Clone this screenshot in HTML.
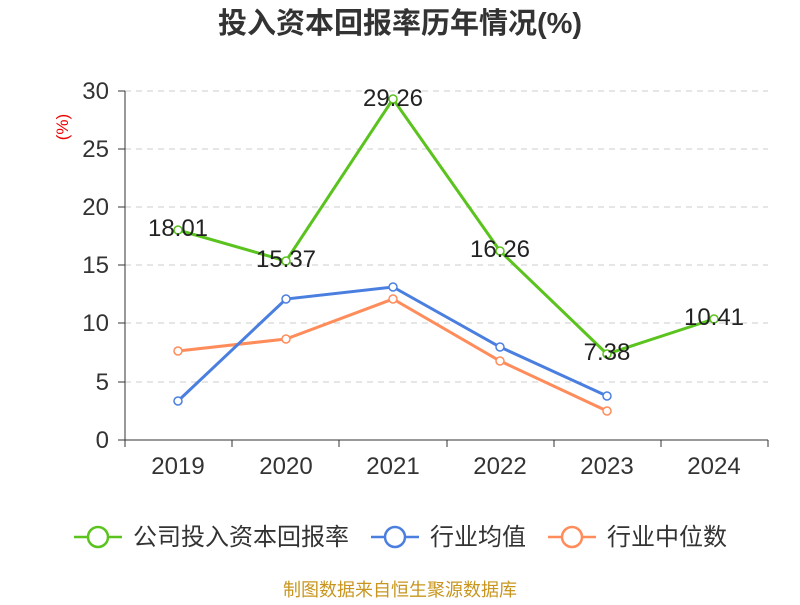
<!DOCTYPE html>
<html><head><meta charset="utf-8"><style>body{margin:0;background:#fff}</style></head><body>
<svg width="800" height="600" xmlns="http://www.w3.org/2000/svg" font-family="Liberation Sans, Noto Sans CJK SC, sans-serif">
<text x="400" y="33" text-anchor="middle" font-size="29" font-weight="bold" fill="#333">投入资本回报率历年情况(%)</text>
<text x="68" y="127" font-size="17" fill="#e00" transform="rotate(-90 68 127)" text-anchor="middle">(%)</text>
<g stroke="#ccc" stroke-dasharray="6,5">
<line x1="125" y1="91" x2="768" y2="91"/><line x1="125" y1="149" x2="768" y2="149"/><line x1="125" y1="207" x2="768" y2="207"/><line x1="125" y1="265" x2="768" y2="265"/><line x1="125" y1="323" x2="768" y2="323"/><line x1="125" y1="382" x2="768" y2="382"/>
</g>
<g stroke="#333"><line x1="125" y1="91" x2="125" y2="440"/><line x1="125" y1="440" x2="768" y2="440"/>
<line x1="118" y1="91" x2="125" y2="91"/><line x1="118" y1="149" x2="125" y2="149"/><line x1="118" y1="207" x2="125" y2="207"/><line x1="118" y1="265" x2="125" y2="265"/><line x1="118" y1="323" x2="125" y2="323"/><line x1="118" y1="382" x2="125" y2="382"/><line x1="118" y1="440" x2="125" y2="440"/>
<line x1="125" y1="440" x2="125" y2="447"/><line x1="232" y1="440" x2="232" y2="447"/><line x1="339" y1="440" x2="339" y2="447"/><line x1="447" y1="440" x2="447" y2="447"/><line x1="554" y1="440" x2="554" y2="447"/><line x1="661" y1="440" x2="661" y2="447"/><line x1="768" y1="440" x2="768" y2="447"/></g>
<g font-size="24" fill="#333" text-anchor="end"><text x="109" y="99">30</text><text x="109" y="157">25</text><text x="109" y="215">20</text><text x="109" y="273">15</text><text x="109" y="331">10</text><text x="109" y="390">5</text><text x="109" y="448">0</text></g>
<g font-size="24" fill="#333" text-anchor="middle"><text x="178" y="474">2019</text><text x="286" y="474">2020</text><text x="393" y="474">2021</text><text x="500" y="474">2022</text><text x="607" y="474">2023</text><text x="714" y="474">2024</text></g>
<g fill="none" stroke-width="3">
<polyline stroke="#ff8c5a" points="178,351 286,339 393,299 500,361 607,411"/>
<polyline stroke="#4a7fe0" points="178,401 286,299 393,287 500,347 607,396"/>
<polyline stroke="#5ac31e" points="178,230 286,261 393,99 500,251 607,354 714,319"/>
</g>
<g fill="#fff" stroke-width="1.5">
<g stroke="#ff8c5a"><circle cx="178" cy="351" r="4"/><circle cx="286" cy="339" r="4"/><circle cx="393" cy="299" r="4"/><circle cx="500" cy="361" r="4"/><circle cx="607" cy="411" r="4"/></g>
<g stroke="#4a7fe0"><circle cx="178" cy="401" r="4"/><circle cx="286" cy="299" r="4"/><circle cx="393" cy="287" r="4"/><circle cx="500" cy="347" r="4"/><circle cx="607" cy="396" r="4"/></g>
<g stroke="#5ac31e"><circle cx="178" cy="230" r="4"/><circle cx="286" cy="261" r="4"/><circle cx="393" cy="99" r="4"/><circle cx="500" cy="251" r="4"/><circle cx="607" cy="354" r="4"/><circle cx="714" cy="319" r="4"/></g>
</g>
<g font-size="24" fill="#222" text-anchor="middle"><text x="178" y="236">18.01</text><text x="286" y="267">15.37</text><text x="393" y="106">29.26</text><text x="500" y="257">16.26</text><text x="607" y="360">7.38</text><text x="714" y="325">10.41</text></g>
<g stroke-width="2.5" fill="#fff">
<line x1="74" y1="537" x2="122" y2="537" stroke="#5ac31e"/><circle cx="98" cy="537" r="10" stroke="#5ac31e"/>
<line x1="371" y1="537" x2="419" y2="537" stroke="#4a7fe0"/><circle cx="395" cy="537" r="10" stroke="#4a7fe0"/>
<line x1="548" y1="537" x2="596" y2="537" stroke="#ff8c5a"/><circle cx="572" cy="537" r="10" stroke="#ff8c5a"/>
</g>
<g font-size="24" fill="#333"><text x="133" y="545">公司投入资本回报率</text><text x="430" y="545">行业均值</text><text x="607" y="545">行业中位数</text></g>
<text x="400" y="596" text-anchor="middle" font-size="18" fill="#c8961e">制图数据来自恒生聚源数据库</text>
</svg>
</body></html>
